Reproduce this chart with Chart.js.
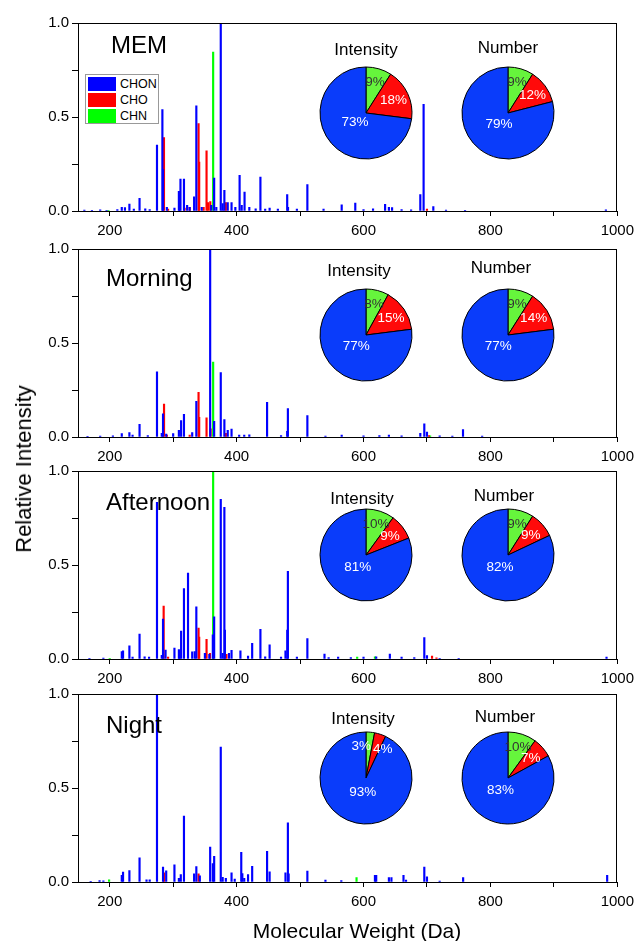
<!DOCTYPE html>
<html>
<head>
<meta charset="utf-8">
<script src="https://cdn.jsdelivr.net/npm/chart.js@4.4.0/dist/chart.umd.min.js"></script>
<style>
    body { margin: 0; background: #fff; }
    #page { position: relative; width: 640px; height: 941px; overflow: hidden; font-family: "Liberation Sans", Arial, sans-serif; color: #000; }
    canvas { position: absolute; }
    .name { position: absolute; font-size: 24px; line-height: 24px; white-space: nowrap; }
    .ptitle { position: absolute; width: 120px; text-align: center; font-size: 17px; line-height: 17px; white-space: nowrap; }
    #ytitle { position: absolute; left: 24px; top: 469px; font-size: 22px; line-height: 22px; white-space: nowrap; transform: translate(-50%, -50%) rotate(-90deg); }
    #xtitle { position: absolute; left: 157px; width: 400px; top: 920px; text-align: center; font-size: 21px; line-height: 21px; }
    #legend { position: absolute; left: 85px; top: 74px; width: 74px; height: 50px; box-sizing: border-box; border: 1px solid #999; background: #fff; padding: 1px 0 0 2px; }
    .lrow { display: flex; align-items: center; height: 16px; font-size: 12.5px; }
    .lrow span.sw { display: inline-block; width: 28px; height: 14px; margin-right: 4px; }
</style>
</head>
<body>
<div id="page"></div>
<script>
// x axis (Da) and y axis ticks
const massRange = [150, 1000];
const xTickValues = [200, 300, 400, 500, 600, 700, 800, 900, 1000];
const xLabelValues = [200, 400, 600, 800, 1000];
const yTickValues = [0, 0.25, 0.5, 0.75, 1];
const yLabelValues = [0, 0.5, 1];

const classNames = ['CHON', 'CHO', 'CHN'];
const panelNames = ['MEM', 'Morning', 'Afternoon', 'Night'];

// spectra: [mass, relative intensity]
const memChon = [[160,0.005],[172,0.004],[185,0.006],[195,0.004],[212,0.008],[219,0.02],[224,0.018],[231,0.037],[238,0.01],[247,0.067],[256,0.012],[263,0.008],[274.5,0.35],[283,0.54],[284,0.22],[290,0.02],[302,0.015],[309,0.105],[310,0.086],[311.5,0.17],[317,0.17],[322,0.03],[326,0.02],[333,0.075],[336.5,0.56],[345,0.02],[360,0.03],[364.6,0.175],[368,0.02],[375,1.0],[378,0.04],[380.7,0.11],[386,0.045],[392,0.045],[398,0.02],[404.7,0.19],[408,0.03],[412.5,0.1],[420,0.02],[430,0.012],[437.5,0.18],[445,0.01],[452,0.015],[465,0.01],[479.7,0.088],[481,0.02],[495,0.01],[511.5,0.14],[537,0.01],[565.6,0.033],[587,0.042],[600,0.008],[615,0.012],[634,0.035],[640,0.02],[645,0.018],[660,0.008],[675,0.006],[689.5,0.088],[694.7,0.567],[710,0.023],[730,0.005],[760,0.004],[982,0.006]];
const memCho = [[285.5,0.39],[292,0.01],[318,0.015],[326,0.02],[340,0.465],[341,0.26],[348,0.02],[352.6,0.32],[355,0.045],[358.5,0.05],[383,0.045],[700,0.01]];
const memChn = [[198,0.004],[363,0.845]];

const morningChon = [[165,0.004],[185,0.005],[205,0.006],[219,0.018],[231,0.023],[236,0.01],[247,0.067],[260,0.008],[274.5,0.347],[282,0.02],[284,0.123],[289,0.015],[300,0.018],[309,0.035],[312.5,0.088],[317,0.12],[330,0.023],[336.5,0.19],[358.3,1.0],[364.6,0.084],[375,0.342],[380.7,0.093],[386,0.035],[392,0.042],[404,0.01],[412,0.01],[420,0.012],[448,0.184],[470,0.008],[479.7,0.03],[480.8,0.151],[511.5,0.114],[540,0.005],[565.6,0.01],[600,0.006],[625,0.008],[640,0.01],[660,0.006],[689.5,0.02],[695.8,0.07],[700,0.026],[720,0.006],[740,0.005],[756.8,0.039],[787,0.005]];
const morningCho = [[285.6,0.175],[290,0.01],[326,0.01],[340,0.237],[341,0.105],[352.6,0.102],[359,0.044],[383,0.02],[703,0.008]];
const morningChn = [[363,0.398],[705,0.006]];

const afternoonChon = [[168,0.004],[190,0.005],[219,0.04],[221,0.044],[231,0.07],[236,0.01],[247,0.133],[255,0.012],[262,0.01],[274.5,0.834],[282,0.02],[284,0.212],[288,0.047],[302,0.058],[309,0.05],[310,0.045],[312.5,0.149],[317,0.375],[323.4,0.457],[330,0.038],[334,0.04],[336.5,0.277],[350,0.03],[357,0.025],[362.5,0.128],[364.6,0.224],[375,0.849],[378,0.03],[380.7,0.807],[381.5,0.154],[388,0.03],[392,0.046],[406,0.044],[418,0.015],[424.5,0.084],[437.5,0.158],[445,0.012],[452,0.075],[470,0.01],[477,0.044],[479.8,0.154],[480.8,0.466],[495,0.01],[511.5,0.109],[538.5,0.026],[545,0.008],[560,0.01],[580,0.008],[600,0.01],[620,0.012],[641.5,0.026],[660,0.01],[680,0.008],[695.8,0.114],[700,0.018],[720,0.004],[750,0.004],[983,0.01]];
const afternoonCho = [[285,0.282],[292,0.01],[340,0.165],[341,0.117],[352.6,0.105],[358,0.03],[384,0.025],[708,0.015],[715,0.006]];
const afternoonChn = [[200,0.004],[363,1.0],[590,0.01],[618,0.012]];

const nightChon = [[170,0.004],[184,0.008],[190,0.006],[219,0.035],[221,0.053],[231,0.061],[247,0.128],[258,0.012],[263,0.012],[274.5,1.0],[284,0.08],[289,0.06],[302,0.091],[309,0.02],[312,0.04],[317,0.35],[333,0.044],[336.5,0.082],[342,0.033],[358.3,0.186],[362.5,0.098],[364.6,0.137],[375,0.718],[378,0.025],[383,0.02],[392,0.049],[397,0.015],[407.3,0.158],[409,0.045],[412,0.02],[418,0.04],[424.5,0.084],[448,0.163],[452,0.054],[477,0.049],[480.8,0.315],[482,0.044],[511.5,0.058],[540,0.01],[565,0.008],[618,0.035],[620,0.035],[640,0.023],[644,0.023],[663,0.035],[667,0.01],[695.8,0.08],[700,0.028],[720,0.005],[757,0.023],[984,0.035]];
const nightCho = [[285.6,0.049],[340,0.044]];
const nightChn = [[199,0.012],[589,0.023]];

// pie shares in %, order: CHN, CHO, CHON (clockwise from top)
const pieOrder = ['CHN', 'CHO', 'CHON'];
const memIntensity = [9, 18, 73];
const memNumber = [9, 12, 79];
const morningIntensity = [8, 15, 77];
const morningNumber = [9, 14, 77];
const afternoonIntensity = [10, 9, 81];
const afternoonNumber = [9, 9, 82];
const nightIntensity = [3, 4, 93];
const nightNumber = [10, 7, 83];

const spectra = [
    [memChon, memCho, memChn],
    [morningChon, morningCho, morningChn],
    [afternoonChon, afternoonCho, afternoonChn],
    [nightChon, nightCho, nightChn]
];
const pies = [
    [memIntensity, memNumber],
    [morningIntensity, morningNumber],
    [afternoonIntensity, afternoonNumber],
    [nightIntensity, nightNumber]
];

// layout / style
const FONT = '"Liberation Sans", Arial, sans-serif';
const lineColors = ['#0000ff', '#ff0000', '#00ff00'];
const pieColors = ['#66f53c', '#ff0a0a', '#0a3cfa'];
const panelTops = [21, 247, 469, 692];
const nameTops = [33, 266, 490, 713];
const nameLefts = [111, 106, 106, 106];
const pieX = [366, 508];
const pieY = [113, 335, 555, 778];
const pieTitleX = [[366, 508], [359, 501], [362, 504], [363, 505]];
const pieTitleBase = [[55.7, 53.3], [276, 273.3], [504, 501.3], [724.3, 722.3]];

const page = document.getElementById('page');

const framePlugin = {
    id: 'frame',
    afterDraw(chart) {
        const { ctx, chartArea: a } = chart;
        ctx.save();
        ctx.strokeStyle = '#000';
        ctx.lineWidth = 1;
        ctx.strokeRect(Math.round(a.left) + 0.5, Math.round(a.top) + 0.5, Math.round(a.width) - 1, Math.round(a.height));
        ctx.restore();
    }
};

const pieLabelPlugin = {
    id: 'pieLabels',
    afterDatasetsDraw(chart) {
        const ctx = chart.ctx;
        const vals = chart.data.datasets[0].data;
        const meta = chart.getDatasetMeta(0);
        const radiusFactor = [0.7, 0.66, 0.32];
        const smallPair = vals[0] < 6 && vals[1] < 6;
        ctx.save();
        ctx.font = '13.5px ' + FONT;
        ctx.textBaseline = 'middle';
        meta.data.forEach((arc, i) => {
            const mid = (arc.startAngle + arc.endAngle) / 2;
            const r = arc.outerRadius * radiusFactor[i];
            let x = arc.x + Math.cos(mid) * r;
            const y = arc.y + Math.sin(mid) * r;
            ctx.textAlign = 'center';
            if (smallPair && i === 0) { ctx.textAlign = 'right'; x = arc.x + 5; }
            if (smallPair && i === 1) { ctx.textAlign = 'left'; x = arc.x + 7; }
            ctx.fillStyle = (i === 0 && vals[i] >= 6) ? '#333' : '#fff';
            ctx.fillText(vals[i] + '%', x, y);
        });
        ctx.restore();
    }
};

function addDiv(cls, text, left, top) {
    const d = document.createElement('div');
    d.className = cls;
    d.textContent = text;
    d.style.left = left + 'px';
    d.style.top = top + 'px';
    page.appendChild(d);
    return d;
}

function makeSpectrum(i) {
    const c = document.createElement('canvas');
    c.width = 640;
    c.height = 230;
    c.style.left = '0px';
    c.style.top = (panelTops[i] - 10) + 'px';
    page.appendChild(c);

    new Chart(c, {
        type: 'bar',
        data: {
            datasets: spectra[i].map((pairs, k) => ({
                label: classNames[k],
                data: pairs.map(p => ({ x: p[0], y: p[1] })),
                backgroundColor: lineColors[k],
                borderWidth: 0,
                barThickness: 1.5,
                stack: 'ms'
            }))
        },
        options: {
            responsive: false,
            animation: false,
            layout: { padding: { left: 0, right: 18, top: 10, bottom: 0 } },
            plugins: { legend: { display: false }, tooltip: { enabled: false } },
            scales: {
                x: {
                    type: 'linear',
                    min: massRange[0],
                    max: massRange[1],
                    offset: false,
                    afterBuildTicks: ax => { ax.ticks = xTickValues.map(v => ({ value: v })); },
                    afterFit: ax => { ax.height = 30; },
                    ticks: {
                        autoSkip: false,
                        maxRotation: 0,
                        padding: 6,
                        color: '#000',
                        font: { size: 15, family: FONT },
                        callback: v => xLabelValues.includes(v) ? String(v) : ''
                    },
                    grid: { offset: false, drawOnChartArea: false, tickLength: 5, tickColor: '#000' },
                    border: { color: '#000' }
                },
                y: {
                    min: 0,
                    max: 1,
                    stacked: false,
                    afterBuildTicks: ax => { ax.ticks = yTickValues.map(v => ({ value: v })); },
                    afterFit: ax => { ax.width = 78; },
                    ticks: {
                        padding: 3,
                        color: '#000',
                        font: { size: 15, family: FONT },
                        callback: v => yLabelValues.includes(v) ? v.toFixed(1) : ''
                    },
                    grid: { drawOnChartArea: false, tickLength: 6, tickColor: '#000' },
                    border: { color: '#555' }
                }
            }
        },
        plugins: [framePlugin]
    });

    addDiv('name', panelNames[i], nameLefts[i], nameTops[i]);
}

function makePie(i, j) {
    const c = document.createElement('canvas');
    c.width = 100;
    c.height = 100;
    c.style.left = (pieX[j] - 50) + 'px';
    c.style.top = (pieY[i] - 50) + 'px';
    page.appendChild(c);

    new Chart(c, {
        type: 'pie',
        data: {
            labels: pieOrder,
            datasets: [{
                data: pies[i][j],
                backgroundColor: pieColors,
                borderColor: '#000',
                borderWidth: 1
            }]
        },
        options: {
            responsive: false,
            animation: false,
            radius: 46,
            plugins: { legend: { display: false }, tooltip: { enabled: false } }
        },
        plugins: [pieLabelPlugin]
    });

    const title = j === 0 ? 'Intensity' : 'Number';
    addDiv('ptitle', title, pieTitleX[i][j] - 60, pieTitleBase[i][j] - 14.4);
}

for (let i = 0; i < 4; i++) {
    makeSpectrum(i);
    makePie(i, 0);
    makePie(i, 1);
}

// legend (first panel)
const legend = document.createElement('div');
legend.id = 'legend';
classNames.forEach((n, k) => {
    const row = document.createElement('div');
    row.className = 'lrow';
    row.innerHTML = '<span class="sw" style="background:' + lineColors[k] + '"></span>' + n;
    legend.appendChild(row);
});
page.appendChild(legend);

const yt = document.createElement('div');
yt.id = 'ytitle';
yt.textContent = 'Relative Intensity';
page.appendChild(yt);

const xt = document.createElement('div');
xt.id = 'xtitle';
xt.textContent = 'Molecular Weight (Da)';
page.appendChild(xt);
</script>
</body>
</html>
